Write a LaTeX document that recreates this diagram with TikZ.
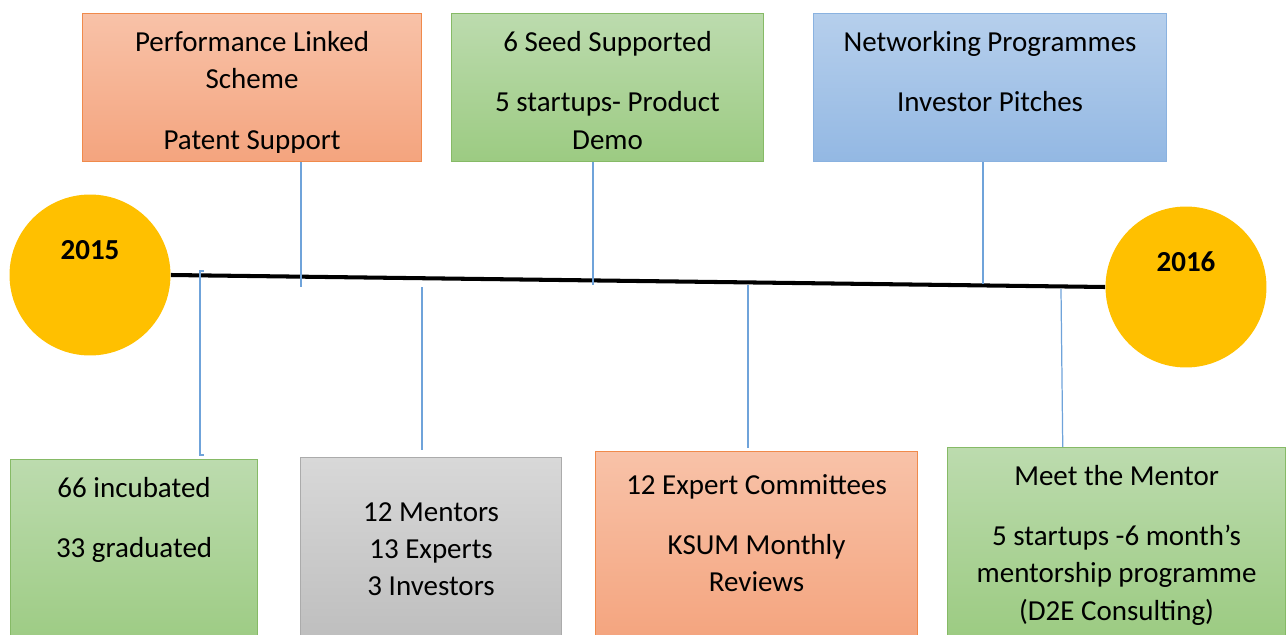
\documentclass[tikz,border=0pt]{standalone}
\usepackage{fontspec}
\setmainfont{Carlito}
\definecolor{orangeline}{HTML}{F08A4B}
\definecolor{orangetop}{HTML}{F8C2A8}
\definecolor{orangebot}{HTML}{F4A47E}
\definecolor{greenline}{HTML}{86BA66}
\definecolor{greentop}{HTML}{BCDBAE}
\definecolor{greenbot}{HTML}{9CCB82}
\definecolor{blueline}{HTML}{8AB2E0}
\definecolor{bluetop}{HTML}{B6CFEC}
\definecolor{bluebot}{HTML}{93B8E3}
\definecolor{grayline}{HTML}{ABABAB}
\definecolor{graytop}{HTML}{D8D8D8}
\definecolor{graybot}{HTML}{BDBDBD}
\definecolor{yearfill}{HTML}{FFC000}
\definecolor{linkblue}{HTML}{6FA3DA}
\begin{document}
\begin{tikzpicture}[x=0.02cm,y=-0.02cm]
\tikzset{box/.style = {shape=rectangle,anchor=north west,inner sep=0pt,line width=0.7pt}}
\tikzset{orangebox/.style = {box,draw=orangeline,top color=orangetop,bottom color=orangebot}}
\tikzset{greenbox/.style = {box,draw=greenline,top color=greentop,bottom color=greenbot}}
\tikzset{bluebox/.style = {box,draw=blueline,top color=bluetop,bottom color=bluebot}}
\tikzset{graybox/.style = {box,draw=grayline,top color=graytop,bottom color=graybot}}
\tikzset{boxtext/.style = {anchor=north,align=center,inner sep=0pt,font=\fontsize{16.5}{21.3}\selectfont}}
\tikzset{year/.style = {shape=circle,fill=yearfill,minimum size=3.22cm,inner sep=0pt}}
\tikzset{link/.style = {draw=linkblue,line width=0.7pt}}
\clip (0,0) rectangle (1286,635);
% years
\node[year,label={[yshift=14.2pt,font=\fontsize{16.5}{20}\selectfont\bfseries]center:2015}] (y15) at (90,275) {};
\node[year,label={[yshift=14.2pt,font=\fontsize{16.5}{20}\selectfont\bfseries]center:2016}] (y16) at (1186,287) {};
\draw[line width=2.3pt] (y15.east) -- (y16.west);
% boxes above the timeline
\node[orangebox,minimum width=6.78cm,minimum height=2.96cm] (pls) at (82,13) {};
\node[greenbox,minimum width=6.24cm,minimum height=2.96cm] (seed) at (451,13) {};
\node[bluebox,minimum width=7.06cm,minimum height=2.96cm] (net) at (813,13) {};
\begin{scope}
\clip ([yshift=5.6pt]pls.south west) rectangle (pls.north east);
\node[boxtext] at ([yshift=-6.8pt]pls.north) {\strut Performance Linked\\Scheme\\[13pt]Patent Support};
\end{scope}
\begin{scope}
\clip ([yshift=5.6pt]seed.south west) rectangle (seed.north east);
\node[boxtext] at ([yshift=-6.8pt]seed.north) {\strut 6 Seed Supported\\[13pt]5 startups- Product\\Demo};
\end{scope}
\node[boxtext] at ([yshift=-6.6pt]net.north) {\strut Networking Programmes\\[13pt]Investor Pitches};
% boxes below the timeline
\node[greenbox,minimum width=4.94cm,minimum height=3.8cm] (inc) at (10,459) {};
\node[graybox,minimum width=5.22cm,minimum height=3.8cm] (mentors) at (300,457) {};
\node[orangebox,minimum width=6.44cm,minimum height=3.8cm] (ksum) at (595,451) {};
\node[greenbox,minimum width=6.76cm,minimum height=3.8cm] (meet) at (947,447) {};
\node[boxtext] at ([yshift=-6.6pt]inc.north) {\strut 66 incubated\\[13pt]33 graduated};
\node[boxtext] at ([yshift=-21.4pt]mentors.north) {\strut 12 Mentors\\13 Experts\\3 Investors};
\node[boxtext] at ([yshift=-9.5pt]ksum.north) {\strut 12 Expert Committees\\[13pt]KSUM Monthly\\Reviews};
\node[boxtext] at ([yshift=-6.6pt]meet.north) {\strut Meet the Mentor\\[13pt]5 startups -6 month’s\\mentorship programme\\(D2E Consulting)};
% connectors to the timeline
\coordinate (p1) at (301,287);
\coordinate (p2) at (593,285);
\coordinate (p3) at (983,284);
\draw[link] (pls.south -| p1) -- (p1);
\draw[link] (seed.south -| p2) -- (p2);
\draw[link] (net.south -| p3) -- (p3);
\coordinate (b0) at (200,271);
\coordinate (b1) at (200,455);
\draw[link] ([xshift=2pt]b0) -- (b0) -- (b1) -- ([xshift=2pt]b1);
\coordinate (m1) at (422,287);
\coordinate (m2) at (748,285);
\coordinate (m3) at (1061,289);
\draw[link] (m1) -- ([yshift=4pt]m1 |- mentors.north);
\draw[link] (m2) -- ([yshift=1.7pt]m2 |- ksum.north);
\draw[link] (m3) -- ([xshift=1pt]m3 |- meet.north);
\end{tikzpicture}
\end{document}
